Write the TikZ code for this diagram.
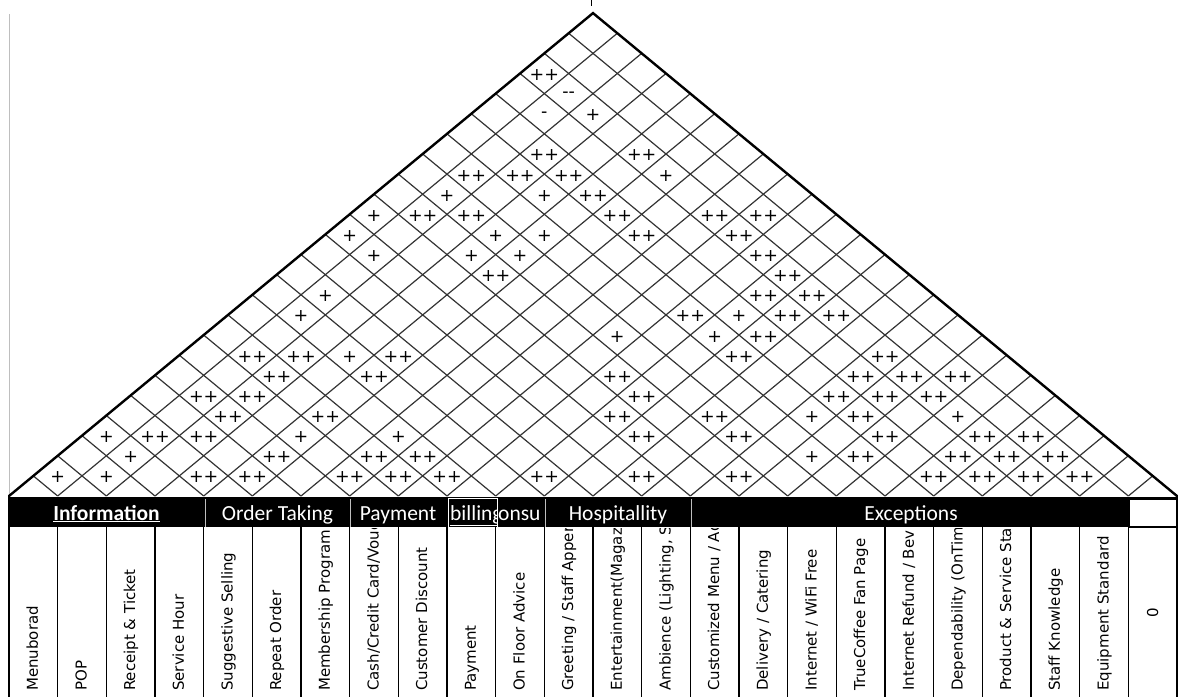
\documentclass[tikz,border=0pt]{standalone}
\usepackage{fontspec}
\newfontfamily\lblfont{DejaVu Sans}
\newfontfamily\hdrfont{Carlito}
\newfontfamily\symfont{DejaVu Sans}
\definecolor{gridgray}{HTML}{333333}
\definecolor{sepgray}{HTML}{BEBEBE}
\tikzset{
  gridline/.style={draw=gridgray, line width=1.2pt},
  roofedge/.style={draw=black, line width=2.4pt, line cap=round},
  colline/.style={draw=black, line width=1.2pt},
  sepline/.style={draw=sepgray, line width=0.9pt},
  sym/.style={font=\symfont\fontsize{17.5}{18}\selectfont, inner sep=0pt, text=black},
  lbl/.style={font=\lblfont\fontsize{15}{17}\selectfont, rotate=90, anchor=base west, inner sep=0pt},
  hdr/.style={font=\hdrfont\fontsize{21.5}{24}\selectfont, text=white, inner sep=0pt, anchor=base},
}
% column label: #1 = column number, #2 = text
\newcommand\collabel[2]{\node[lbl] (lab#1) at ({9+48.667*(#1-0.5)+4.5},691) {#2};}
\begin{document}
\begin{tikzpicture}[x=1pt,y=-1pt]
\useasboundingbox (0,0) rectangle (1181,697);

% corners of the roof
\coordinate (L) at (9,496);
\coordinate (R) at (1177,496);
\coordinate (A) at (593,13.1);

% left border of the sheet
\draw[sepgray, line width=0.8pt] (9,14) -- (L);
% small tick above the apex
\draw[black, line width=0.8pt] (591,0) -- (591,6);

% diagonal grid of the roof
\foreach \k in {1,...,23} {
  \coordinate (b\k) at ({9+48.667*\k},496);
  \coordinate (ur\k) at ({9+24.333*(24+\k)},{496-20.12*(24-\k)});
  \coordinate (ul\k) at ({9+24.333*\k},{496-20.12*\k});
  \draw[gridline] (b\k) -- (ur\k);
  \draw[gridline] (b\k) -- (ul\k);
}
\draw[roofedge] (L) -- (A) -- (R);

% correlation marks: column i / column j / mark
\foreach \i/\j/\s in {
  1/2/+, 2/3/+, 4/5/++, 5/6/++, 7/8/++, 8/9/++, 9/10/++, 11/12/++, 13/14/++,
  15/16/++, 19/20/++, 20/21/++, 21/22/++, 22/23/++,
  2/4/+, 5/7/++, 7/9/++, 8/10/++, 16/18/+, 17/19/++, 19/21/++, 20/22/++, 21/23/++,
  1/4/+, 2/5/++, 3/6/++, 5/8/+, 7/10/+, 12/15/++, 14/17/++, 17/20/++, 19/22/++, 20/23/++,
  3/7/++, 5/9/++, 11/15/++, 13/17/++, 15/19/+, 16/20/++, 18/22/+,
  2/7/++, 3/8/++, 11/16/++, 15/20/++, 16/21/++, 17/22/++,
  3/9/++, 5/11/++, 10/16/++, 15/21/++, 16/22/++, 17/23/++,
  2/9/++, 3/10/++, 4/11/+, 5/12/++, 12/19/++, 15/22/++,
  9/17/+, 11/19/+, 12/20/++,
  2/11/+, 10/19/++, 11/20/+, 12/21/++, 13/22/++,
  2/12/+, 11/21/++, 12/22/++,
  5/16/++, 11/22/++,
  2/14/+, 4/16/+, 5/17/+, 10/22/++,
  1/14/+, 4/17/+, 5/18/+, 7/20/++, 9/22/++,
  1/15/+, 2/16/++, 3/17/++, 6/20/++, 8/22/++, 9/23/++,
  2/17/+, 4/19/+, 5/20/++,
  2/18/++, 3/19/++, 4/20/++, 6/22/+,
  3/20/++, 5/22/++,
  2/21/-, 3/22/+,
  2/22/-{}-,
  1/22/++}
  \node[sym] (m\i-\j) at ({9+24.333*(\i+\j-1)},{497.5-20.12*(\j-\i)}) {\s};

% header band
\fill[black] (8,497) rectangle (1178,527);
\node[hdr] (hInfo) at (106.5,520) {\bfseries\underline{Information}};
\node[hdr] (hOrder) at (277.5,520) {Order Taking};
\node[hdr] (hPay) at (398,520) {Payment};
\begin{scope}
  \clip (448,497) rectangle (497,527);
  \node[hdr, anchor=base west] (hBill) at (450,520) {\underline{billing}};
\end{scope}
\begin{scope}
  \clip (497,497) rectangle (545,527);
  \node[hdr, anchor=base west] (hCons) at (498,520) {onsu};
\end{scope}
\node[hdr] (hHosp) at (618,520) {Hospitallity};
\node[hdr] (hExc) at (911,520) {Exceptions};
\draw[white, line width=0.8pt] (448,498) rectangle (497,527);
\foreach \x in {205,350,545,691}
  \draw[sepline] (\x,499) -- (\x,527);

% column cells
\fill[white] (9,527.5) rectangle (1177,697);
\foreach \k in {0,...,24}
  \draw[colline] ({9+48.667*\k},527) -- ({9+48.667*\k},697);
\draw[black, fill=white, line width=1.2pt] (1129,499) rectangle (1177,527);

% column labels
\begin{scope}
  \clip (9,528) rectangle (1177,697);
  \collabel{1}{Menuborad}
  \collabel{2}{POP}
  \collabel{3}{Receipt \& Ticket}
  \collabel{4}{Service Hour}
  \collabel{5}{Suggestive Selling}
  \collabel{6}{Repeat Order}
  \collabel{7}{Membership Program}
  \collabel{8}{Cash/Credit Card/Vouc}
  \collabel{9}{Customer Discount}
  \collabel{10}{Payment}
  \collabel{11}{On Floor Advice}
  \collabel{12}{Greeting / Staff Apper}
  \collabel{13}{Entertainment(Magazi}
  \collabel{14}{Ambience (Lighting, S}
  \collabel{15}{Customized Menu / Ad}
  \collabel{16}{Delivery / Catering}
  \collabel{17}{Internet / WiFi Free}
  \collabel{18}{TrueCoffee Fan Page}
  \collabel{19}{Internet Refund / Bev}
  \collabel{20}{Dependability (OnTim}
  \collabel{21}{Product \& Service Sta}
  \collabel{22}{Staff Knowledge}
  \collabel{23}{Equipment Standard}
  \node[font=\lblfont\fontsize{15}{17}\selectfont, rotate=90, inner sep=0pt] (lab24) at ({9+48.667*23.5},613) {0};
\end{scope}
\end{tikzpicture}
\end{document}
